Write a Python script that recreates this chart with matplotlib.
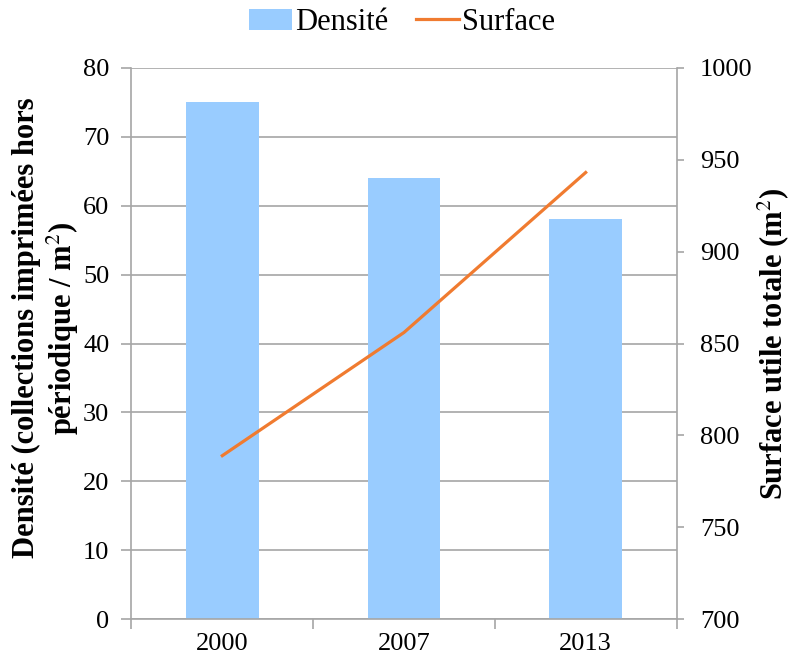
import matplotlib.pyplot as plt
import numpy as np

years = ["2000", "2007", "2013"]
densite = [75, 64, 58]
surface = [789, 856, 943]

plt.rcParams["font.family"] = ["Liberation Serif", "DejaVu Serif"]
plt.rcParams["mathtext.fontset"] = "stix"

fig = plt.figure(figsize=(7.93, 6.63), dpi=100)
ax = fig.add_axes([0.1658, 0.0659, 0.6873, 0.832])
ax2 = ax.twinx()

x = np.arange(len(years))
grey = "#a6a6a6"

ax.bar(x, densite, width=0.4, color="#99ccff", label="Densité", zorder=2)
ax2.plot(x, surface, color="#f07b30", lw=2.3, label="Surface")

ax.set_xlim(-0.5, len(years) - 0.5)
ax.set_ylim(0, 80)
ax.set_yticks(range(0, 81, 10))
ax2.set_ylim(700, 1000)
ax2.set_yticks(range(700, 1001, 50))

ax.yaxis.grid(True, color=grey, lw=1.2, zorder=0)
ax.set_axisbelow(True)

# ticks at category boundaries, labels in the middle
ax.set_xticks(np.arange(-0.5, len(years), 1.0))
ax.set_xticklabels([])
ax.set_xticks(x, minor=True)
ax.set_xticklabels(years, minor=True)
ax.tick_params(axis="x", which="minor", length=0, pad=10, labelsize=19)
ax.tick_params(axis="x", which="major", length=7, color=grey, width=1.2)

ax.tick_params(axis="y", length=7, color=grey, width=1.2, labelsize=19, pad=9)
ax2.tick_params(axis="y", length=5, color=grey, width=1.2, labelsize=19, pad=12)

for a in (ax, ax2):
    a.spines["top"].set_visible(False)
    for s in ("left", "right", "bottom"):
        a.spines[s].set_color(grey)
        a.spines[s].set_linewidth(1.2)
ax2.spines["left"].set_visible(False)
ax2.spines["bottom"].set_visible(False)
ax.spines["right"].set_visible(False)

ax.set_ylabel("Densité (collections imprimées hors\npériodique / m$^2$)",
              fontsize=22, fontweight="bold", linespacing=1.15)
ax.yaxis.set_label_coords(-0.092, 0.528)
ax2.set_ylabel("Surface utile totale (m$^2$)", fontsize=22, fontweight="bold")
ax2.yaxis.set_label_coords(1.145, 0.5)

h1, l1 = ax.get_legend_handles_labels()
h2, l2 = ax2.get_legend_handles_labels()
fig.legend(h1 + h2, l1 + l2, loc="center", bbox_to_anchor=(0.507, 0.966),
           ncol=2, frameon=False, fontsize=22, handlelength=1.4,
           handletextpad=0.1, columnspacing=0.9)

fig.savefig("out.png", dpi=100)
